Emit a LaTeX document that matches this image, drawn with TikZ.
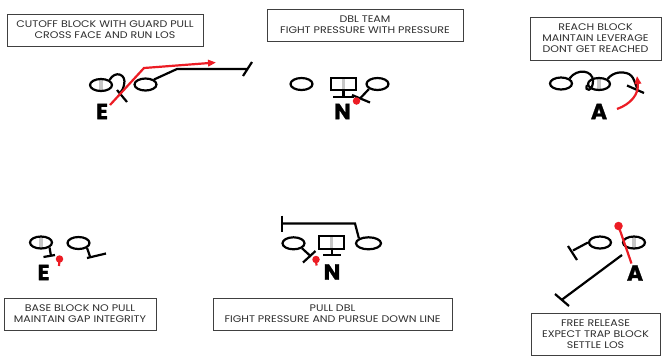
\documentclass[tikz,border=0pt]{standalone}
\usepackage{fontspec}
\setmainfont{Poppins}
\newfontfamily\notefont{Poppins}[FakeStretch=1.15]
\newfontfamily\heavyfont{Poppins}[BoldFeatures={FakeBold=1.2}]
\usetikzlibrary{arrows.meta,shapes.geometric}
\definecolor{pred}{RGB}{236,28,36}
\begin{document}
\begin{tikzpicture}[x=1pt,y=-1pt,
  note/.style={draw=black!75,line width=0.9pt,inner sep=0pt,align=center,text=black!82,
    font=\notefont\fontsize{9.6}{11}\selectfont},
  oval/.style={ellipse,draw=black,line width=2.2pt,minimum width=22pt,minimum height=12pt,inner sep=0pt},
  gbar/.style={path picture={\fill[black!22] ([xshift=-1.6pt]path picture bounding box.north) rectangle ([xshift=1.6pt]path picture bounding box.south);}},
  sqbox/.style={rectangle,draw=black,line width=2.2pt,minimum width=25pt,minimum height=12pt,inner sep=0pt},
  poslbl/.style={font=\heavyfont\fontsize{22}{22}\selectfont\bfseries,inner sep=0pt},
  blk/.style={line width=2.2pt,black},
  rd/.style={line width=2.2pt,pred},
  reddot/.style={circle,fill=pred,minimum size=7.5pt,inner sep=0pt},
  tip/.style={-{Triangle[length=8pt,width=6.5pt]}}
]
\useasboundingbox (0,0) rectangle (670,357);
\fill[white] (0,0) rectangle (670,357);

% notes
\node[note,minimum width=196pt,minimum height=32pt] (n1) at (105,30) {CUTOFF BLOCK WITH GUARD PULL\\CROSS FACE AND RUN LOS};
\node[note,minimum width=196pt,minimum height=32pt] (n2) at (365,25) {DBL TEAM\\FIGHT PRESSURE WITH PRESSURE};
\node[note,minimum width=131pt,minimum height=43pt] (n3) at (595.5,38.5) {REACH BLOCK\\MAINTAIN LEVERAGE\\DONT GET REACHED};
\node[note,minimum width=152pt,minimum height=32pt] (n4) at (80,314) {BASE BLOCK NO PULL\\MAINTAIN GAP INTEGRITY};
\node[note,minimum width=239pt,minimum height=32pt] (n5) at (332.5,314) {PULL DBL\\FIGHT PRESSURE AND PURSUE DOWN LINE};
\node[note,minimum width=129pt,minimum height=42pt] (n6) at (595.5,334) {FREE RELEASE\\EXPECT TRAP BLOCK\\SETTLE LOS};

% ---------- top left: E ----------
\node[oval,gbar] (e1) at (101,85) {};
\node[oval] (e2) at (145.5,84.5) {};
\coordinate (ecurl) at (120,93);
\draw[blk] (e1.north east) .. controls (115,70) and (127,74) .. (124,85) .. controls (123,89) .. (ecurl);
\draw[blk] (117,90) -- (127,102);
\coordinate (ebend) at (177,69);
\coordinate (eend) at (247,69);
\draw[blk] (e2.north east) -- (ebend) -- (eend);
\draw[blk] (243,76) -- (252,62);
\coordinate (er0) at (110,105);
\coordinate (er1) at (144,68);
\coordinate (er2) at (216,62.5);
\draw[rd,tip] (er0) -- (er1) -- (er2);
\node[poslbl] (eL) at (102,111.5) {E};

% ---------- top middle: N ----------
\node[oval] (t1) at (301.5,84) {};
\node[sqbox,gbar] (t2) at (343.5,84.3) {};
\node[oval] (t3) at (377.5,84) {};
\coordinate (t2s) at (343.5,97);
\draw[blk] (t2.south) -- (t2s);
\draw[blk] (333,97) -- (354,97);
\coordinate (t3e) at (360,98.5);
\draw[blk] (t3.south west) -- (t3e);
\draw[blk] (352,95) -- (370,102.5);
\node[reddot] (tdot) at (356.5,101) {};
\node[poslbl] (nL) at (342.5,111.5) {N};

% ---------- top right: A ----------
\node[oval] (a1) at (561,83.5) {};
\node[oval,gbar] (a2) at (599,84) {};
\coordinate (acurl) at (587,85);
\draw[blk] (a1.north east) .. controls (577,68) and (593,70) .. (593,81) .. controls (593,92) and (584,92) .. (acurl);
\coordinate (aend) at (637,88);
\draw[blk] (a2.north east) .. controls (613,72) and (622,71) .. (629,74) .. controls (633,77) .. (aend);
\draw[blk] (627,85.5) -- (644,93);
\coordinate (ar0) at (617,109);
\coordinate (ar1) at (637,76);
\draw[rd,tip] (ar0) .. controls (631,104) and (639,94) .. (ar1);
\node[poslbl] (aL) at (599,111.5) {A};

% ---------- bottom left: E ----------
\node[oval,gbar] (b1) at (41,242.5) {};
\node[oval] (b2) at (78.5,243) {};
\coordinate (b1e) at (51,256);
\draw[blk] (b1.south east) -- (b1e);
\draw[blk] (43.5,257) -- (55,255);
\coordinate (b2e) at (90,256.5);
\draw[blk] (b2.south east) -- (b2e);
\draw[blk] (87,258) -- (106,253.5);
\coordinate (bdt) at (59,266);
\node[reddot] (bdot) at (59.5,259) {};
\draw[rd] (bdot.center) -- (bdt);
\node[poslbl] (beL) at (43.5,272.5) {E};

% ---------- bottom middle: N ----------
\node[oval] (c1) at (293.5,243.3) {};
\node[sqbox,gbar,minimum height=13pt] (c2) at (331.7,242.5) {};
\node[oval,minimum width=25pt] (c3) at (368.5,243.3) {};
\coordinate (ctl) at (282,223.5);
\coordinate (ctr) at (355,223.5);
\draw[blk] (c3.north west) -- (ctr) -- (ctl);
\draw[blk] (282,215.5) -- (282,231.5);
\coordinate (c1e) at (311,256.5);
\draw[blk] (c1.south east) -- (c1e);
\draw[blk] (303,262.5) -- (315.5,251);
\coordinate (c2s) at (331.7,255);
\draw[blk] (c2.south) -- (c2s);
\draw[blk] (323,255) -- (340.5,255);
\coordinate (cdt) at (316.5,265.5);
\node[reddot] (cdot) at (316,259.5) {};
\draw[rd] (cdot.center) -- (cdt);
\node[poslbl] (cnL) at (332,272) {N};

% ---------- bottom right: A ----------
\node[oval] (d1) at (600,242.5) {};
\node[oval,gbar] (d2) at (634,242.5) {};
\coordinate (d1e) at (573,250.5);
\draw[blk] (d1.west) -- (d1e);
\draw[blk] (568,246) -- (577,260);
\coordinate (dls) at (622,255);
\coordinate (dle) at (561.5,300);
\draw[blk] (dls) -- (dle);
\draw[blk] (555,294) -- (569,306);
\node[reddot,minimum size=8.5pt] (ddot) at (618.5,226) {};
\coordinate (drt) at (631.5,263.5);
\draw[rd] (ddot.center) -- (drt);
\node[poslbl] (daL) at (635,273) {A};
\end{tikzpicture}
\end{document}
